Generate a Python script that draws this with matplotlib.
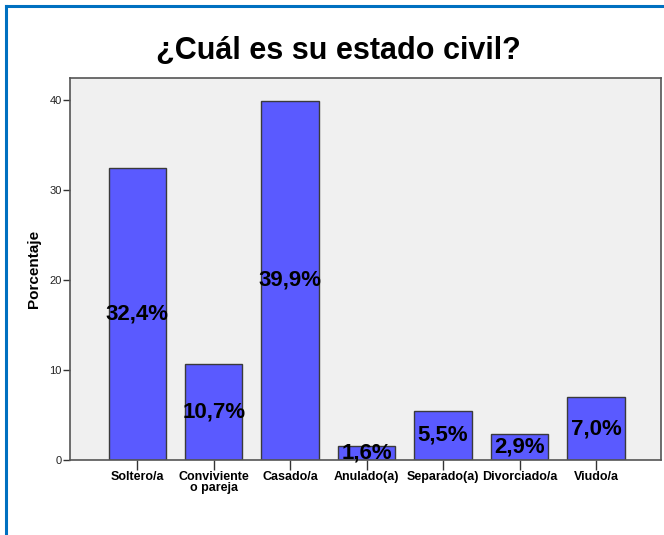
import matplotlib
matplotlib.use("Agg")
import matplotlib.pyplot as plt
from matplotlib.lines import Line2D

categorias = ["Soltero/a", "Conviviente\no pareja", "Casado/a", "Anulado(a)",
              "Separado(a)", "Divorciado/a", "Viudo/a"]
porcentajes = [32.4, 10.7, 39.9, 1.6, 5.5, 2.9, 7.0]
etiquetas = ["32,4%", "10,7%", "39,9%", "1,6%", "5,5%", "2,9%", "7,0%"]
y_ticks = [0, 10, 20, 30, 40]

plt.rcParams['font.family'] = ['Liberation Sans', 'DejaVu Sans']

fig = plt.figure(figsize=(6.64, 5.35), dpi=100)
ax = fig.add_axes([0.1054, 0.140, 0.890, 0.714])

x = list(range(len(categorias)))
ax.bar(x, porcentajes, width=0.75, color="#5a5aff", edgecolor="#3a3a3a",
       linewidth=1.0, zorder=2)

for xi, val, lab in zip(x, porcentajes, etiquetas):
    ax.text(xi, val / 2, lab, ha="center", va="center", fontsize=16,
            fontweight="bold", color="black", zorder=3)

ax.set_facecolor("#f0f0f0")
ax.set_xlim(-0.88, 6.85)
ax.set_ylim(0, 42.4)
ax.set_yticks(y_ticks)
ax.set_yticklabels([str(t) for t in y_ticks], fontsize=8, color="#222222")
ax.set_xticks(x)
ax.set_xticklabels(categorias, fontsize=9, fontweight="bold", linespacing=0.9)
ax.tick_params(axis="y", length=5, width=1, color="#333333", pad=1)
ax.tick_params(axis="x", length=7, width=1, color="#333333", pad=1)
for s in ax.spines.values():
    s.set_color("#555555")
    s.set_linewidth(1.2)

ax.set_ylabel("Porcentaje", fontsize=11, fontweight="bold", labelpad=6)

fig.text(338 / 664, 1 - 51 / 535, "¿Cuál es su estado civil?", ha="center",
         va="center", fontsize=22, fontweight="bold")

# blue frame around the chart
fig.add_artist(Line2D([6 / 664, 6 / 664], [0, 1 - 6 / 535], color="#0070c0",
                      linewidth=2.2, transform=fig.transFigure))
fig.add_artist(Line2D([6 / 664, 1], [1 - 6 / 535, 1 - 6 / 535], color="#0070c0",
                      linewidth=2.2, transform=fig.transFigure))

fig.savefig("out.png", dpi=100)
